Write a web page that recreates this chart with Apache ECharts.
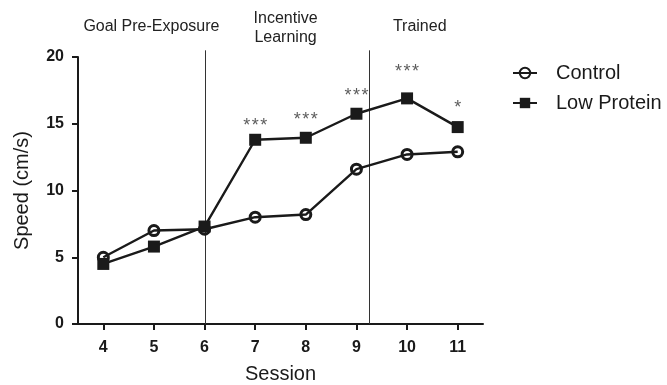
<!DOCTYPE html>
<html><head><meta charset="utf-8">
<script src="https://cdn.jsdelivr.net/npm/echarts@6/dist/echarts.min.js"></script>
<style>html,body{margin:0;padding:0;background:#fff}#c{width:667px;height:385px}</style>
</head><body><div id="c"></div>
<script>
const sessions = [4, 5, 6, 7, 8, 9, 10, 11];
const controlSpeed = [5.0, 7.0, 7.1, 8.0, 8.2, 11.6, 12.7, 12.9];
const lowProteinSpeed = [4.5, 5.8, 7.3, 13.8, 13.95, 15.75, 16.9, 14.75];
const sigSessions = [7, 8, 9, 10, 11];
const sigMarks = ['*\u200a*\u200a*', '*\u200a*\u200a*', '*\u200a*\u200a*', '*\u200a*\u200a*', '*'];
const sigLevels = [14.85, 15.3, 17.05, 18.9, 16.2];
const phaseBoundaries = [6, 9.25];
const phaseLabels = ['Goal Pre-Exposure', 'Incentive\nLearning', 'Trained'];
const phaseCenters = [4.95, 7.6, 10.25];

const chart = echarts.init(document.getElementById('c'), null, {renderer: 'canvas'});
const font = 'Liberation Sans, Arial, Helvetica, sans-serif';
const ink = '#1a1a1a';

const option = {
  animation: false,
  textStyle: {fontFamily: font},
  grid: {left: 78, right: 184, top: 57, bottom: 61, containLabel: false, outerBoundsMode: 'none'},
  legend: {
    orient: 'vertical', left: 507, top: 58, itemGap: 10,
    itemWidth: 24, itemHeight: 13,
    textStyle: {fontSize: 20, color: ink, fontFamily: font, padding: [0, 0, 0, 14]},
    data: ['Control', 'Low Protein']
  },
  xAxis: {
    type: 'value', min: 3.5, max: 11.5,
    name: 'Session', nameLocation: 'middle', nameGap: 40,
    nameTextStyle: {fontSize: 20, color: ink, fontFamily: font},
    splitLine: {show: false},
    axisLine: {show: true, lineStyle: {color: ink, width: 2}},
    axisTick: {show: true, length: 6, lineStyle: {color: ink, width: 2}, customValues: sessions},
    axisLabel: {fontSize: 16, fontWeight: 'bold', color: ink, margin: 16, customValues: sessions, fontFamily: font}
  },
  yAxis: {
    type: 'value', min: 0, max: 20, interval: 5,
    name: 'Speed (cm/s)', nameLocation: 'middle', nameGap: 46,
    nameTextStyle: {fontSize: 20, color: ink, fontFamily: font},
    splitLine: {show: false},
    axisLine: {show: true, lineStyle: {color: ink, width: 2}},
    axisTick: {show: true, length: 6, lineStyle: {color: ink, width: 2}},
    axisLabel: {fontSize: 16, fontWeight: 'bold', color: ink, margin: 14, fontFamily: font}
  },
  series: [
    {
      name: 'Control', type: 'line',
      data: sessions.map((s, i) => [s, controlSpeed[i]]),
      symbol: 'circle', symbolSize: 10, z: 3,
      lineStyle: {color: ink, width: 2.4},
      itemStyle: {color: 'rgba(255,255,255,0)', borderColor: ink, borderWidth: 3}
    },
    {
      name: 'Low Protein', type: 'line',
      data: sessions.map((s, i) => [s, lowProteinSpeed[i]]),
      symbol: 'rect', symbolSize: 12, z: 4,
      lineStyle: {color: ink, width: 2.4},
      itemStyle: {color: ink, borderColor: ink, borderWidth: 0}
    },
    {
      name: 'sig', type: 'scatter', symbolSize: 1,
      itemStyle: {color: 'rgba(0,0,0,0)'},
      data: sigSessions.map((s, i) => [s, sigLevels[i]]),
      label: {
        show: true, position: 'inside', fontSize: 18, color: '#333', fontFamily: font,
        formatter: p => sigMarks[p.dataIndex]
      }
    }
  ]
};
chart.setOption(option);

const graphics = [];
phaseLabels.forEach((t, i) => {
  const px = chart.convertToPixel({gridIndex: 0}, [phaseCenters[i], 0])[0];
  const multi = t.indexOf('\n') >= 0;
  graphics.push({
    type: 'text', x: px, y: multi ? 28.5 : 27,
    style: {text: t, fill: '#222', font: '16px ' + font, textAlign: 'center', textVerticalAlign: 'middle', lineHeight: 19}
  });
});
phaseBoundaries.forEach(b => {
  const p0 = chart.convertToPixel({gridIndex: 0}, [b, 0]);
  const p1 = chart.convertToPixel({gridIndex: 0}, [b, 20.5]);
  graphics.push({
    type: 'line', z: 1, silent: true,
    shape: {x1: Math.round(p0[0]) + 0.5, y1: p0[1], x2: Math.round(p1[0]) + 0.5, y2: p1[1]},
    style: {stroke: '#333', lineWidth: 1}
  });
});
chart.setOption({graphic: graphics});
</script></body></html>
